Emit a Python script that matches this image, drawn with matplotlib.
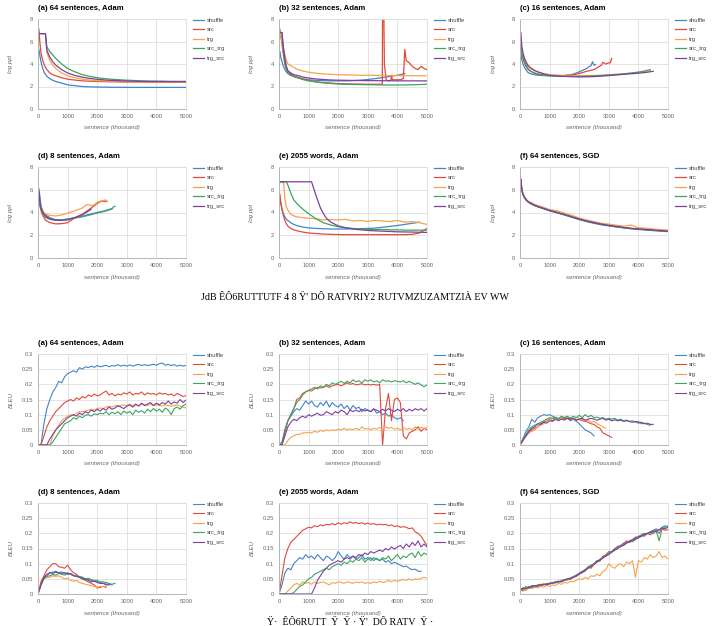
import matplotlib
matplotlib.use('Agg')
import matplotlib.pyplot as plt

plt.rcParams['font.family'] = 'Liberation Sans'

series_names = ['shuffle', 'src', 'trg', 'src_trg', 'trg_src']
colors = ['#4285c8', '#df4b3a', '#f7a24b', '#3ba55d', '#7f3f9f']

ppl_titles = ['(a) 64 sentences, Adam', '(b) 32 sentences, Adam', '(c) 16 sentences, Adam',
              '(d) 8 sentences, Adam', '(e) 2055 words, Adam', '(f) 64 sentences, SGD']
bleu_titles = ppl_titles

caption1 = "JdB ÊÔ6RUTTUTF 4 8 Ÿ' DÔ RATVRIY2 RUTVMZUZAMTZIÀ EV WW"
caption2 = "Ÿ·  ÊÔ6RUTT  Ÿ  Ÿ · Ÿ'  DÔ RATV  Ÿ ·"

# sentence (thousand) grid for the log ppl curves
PX = [30, 60, 100, 150, 200, 250, 300, 400, 500, 600, 800, 1000, 1250, 1500, 1750,
      2000, 2250, 2500, 2750, 3000, 3250, 3500, 3750, 4000, 4250, 4500, 4750, 5000]
# grid for the BLEU curves
BX = list(range(0, 5001, 100))

# ---- log ppl ----
ppl_a_shuffle = [5.3, 4.8, 4.2, 3.7, 3.3, 3.1, 2.9, 2.7, 2.55, 2.45, 2.3, 2.15, 2.07, 2.0, 1.97,
                 1.95, 1.94, 1.93, 1.93, 1.92, 1.92, 1.92, 1.92, 1.92, 1.92, 1.92, 1.92, 1.92]
ppl_a_src = [7.1, 6.0, 5.0, 4.4, 4.0, 3.7, 3.5, 3.2, 3.05, 2.95, 2.78, 2.65, 2.57, 2.5, 2.47,
             2.45, 2.43, 2.42, 2.41, 2.4, 2.4, 2.39, 2.39, 2.38, 2.38, 2.38, 2.38, 2.38]
ppl_a_trg = [6.7, 6.7, 6.7, 6.7, 6.7, 6.7, 5.0, 4.3, 3.9, 3.6, 3.2, 2.95, 2.78, 2.65, 2.57,
             2.52, 2.49, 2.47, 2.45, 2.44, 2.43, 2.42, 2.42, 2.41, 2.41, 2.4, 2.4, 2.4]
ppl_a_src_trg = [6.7, 6.7, 6.7, 6.7, 6.7, 6.7, 5.5, 5.1, 4.8, 4.5, 4.0, 3.6, 3.3, 3.05, 2.9,
                 2.78, 2.7, 2.64, 2.6, 2.56, 2.53, 2.5, 2.48, 2.47, 2.46, 2.45, 2.45, 2.45]
ppl_a_trg_src = [6.7, 6.7, 6.7, 6.7, 6.7, 6.7, 5.2, 4.6, 4.2, 3.9, 3.5, 3.2, 2.98, 2.83, 2.72,
                 2.64, 2.58, 2.54, 2.51, 2.49, 2.47, 2.46, 2.45, 2.45, 2.45, 2.44, 2.44, 2.44]

ppl_b_shuffle = [5.1, 4.6, 4.2, 3.8, 3.5, 3.3, 3.15, 2.98, 2.88, 2.8, 2.68, 2.6, 2.55, 2.52, 2.5,
                 2.5, 2.5, 2.52, 2.56, 2.62, 2.7, 2.8, 2.9, 3.0, 3.15]
ppl_b_src_x = [30, 60, 100, 150, 200, 250, 300, 400, 500, 600, 800, 1000, 1250, 1500, 1750,
               2000, 2250, 2500, 2750, 3000, 3250, 3450, 3490, 3500, 3540, 3560, 3620, 3700,
               3780, 3800, 3830, 3950, 4100, 4200, 4250, 4300, 4400, 4500, 4600, 4700, 4800,
               4850, 4900, 5000]
ppl_b_src = [7.1, 6.5, 5.8, 4.8, 4.0, 3.6, 3.35, 3.1, 2.95, 2.85, 2.68, 2.55, 2.42, 2.35, 2.3,
             2.26, 2.24, 2.22, 2.21, 2.2, 2.2, 2.2, 2.2, 9.0, 9.0, 4.0, 2.6, 2.5,
             2.55, 3.0, 2.6, 2.6, 2.6, 2.7, 5.3, 4.3, 4.1, 3.8, 3.6, 3.5, 3.8,
             3.7, 3.6, 3.5]
ppl_b_trg = [7.0, 6.5, 6.0, 5.3, 4.8, 4.3, 4.0, 3.85, 3.7, 3.55, 3.38, 3.27, 3.18, 3.12, 3.08,
             3.05, 3.03, 3.02, 3.0, 3.0, 2.99, 2.98, 2.97, 2.97, 2.96, 2.96, 2.95, 2.95]
ppl_b_src_trg = [6.8, 6.8, 6.8, 5.0, 4.0, 3.5, 3.2, 3.0, 2.9, 2.8, 2.62, 2.5, 2.4, 2.32, 2.27,
                 2.22, 2.2, 2.18, 2.17, 2.16, 2.15, 2.14, 2.13, 2.13, 2.14, 2.15, 2.17, 2.2]
ppl_b_trg_src = [6.8, 6.8, 6.8, 5.5, 4.5, 3.8, 3.4, 3.2, 3.05, 3.0, 2.85, 2.75, 2.67, 2.62, 2.58,
                 2.56, 2.55, 2.54, 2.53, 2.52, 2.52, 2.51, 2.51, 2.5, 2.5, 2.5, 2.5, 2.5]

ppl_c_shuffle_x = [30, 60, 100, 150, 200, 250, 300, 400, 500, 600, 800, 1000, 1250, 1500, 1750,
                   2000, 2250, 2350, 2400, 2450, 2500, 2550]
ppl_c_shuffle = [4.8, 4.4, 4.0, 3.7, 3.5, 3.3, 3.2, 3.1, 3.05, 3.0, 2.97, 2.95, 2.95, 2.97, 3.05,
                 3.3, 3.6, 3.8, 3.85, 4.2, 3.9, 3.95]
ppl_c_src_x = [30, 60, 100, 150, 200, 250, 300, 400, 500, 600, 800, 1000, 1250, 1500, 1750,
               2000, 2250, 2500, 2750, 2800, 2900, 3000, 3050, 3100]
ppl_c_src = [5.3, 4.9, 4.5, 4.1, 3.8, 3.6, 3.45, 3.3, 3.2, 3.12, 3.05, 3.0, 2.98, 2.98, 3.02,
             3.15, 3.35, 3.5, 3.9, 4.15, 4.0, 4.1, 4.1, 4.5]
ppl_c_long_x = [30, 60, 100, 150, 200, 250, 300, 400, 500, 600, 800, 1000, 1250, 1500, 1750,
                2000, 2250, 2500, 2750, 3000, 3250, 3500, 3750, 4000, 4250, 4400]
ppl_c_trg = [5.2, 5.0, 4.8, 4.5, 4.2, 4.0, 3.85, 3.6, 3.45, 3.3, 3.15, 3.05, 3.0, 2.95, 2.95,
             2.95, 2.97, 2.98, 3.0, 3.05, 3.08, 3.12, 3.18, 3.25, 3.35, 3.4]
ppl_c_src_trg = [5.8, 5.1, 4.6, 4.2, 3.9, 3.65, 3.5, 3.3, 3.15, 3.05, 3.0, 2.95, 2.92, 2.9, 2.9,
                 2.9, 2.92, 2.95, 2.98, 3.02, 3.07, 3.12, 3.2, 3.28, 3.4, 3.5]
ppl_c_trg_src = [6.8, 5.6, 5.0, 4.5, 4.2, 3.9, 3.75, 3.55, 3.4, 3.3, 3.12, 3.0, 2.93, 2.9, 2.87,
                 2.85, 2.86, 2.88, 2.92, 2.97, 3.02, 3.08, 3.13, 3.18, 3.25, 3.35]

ppl_d_shuffle = [6.1, 5.5, 4.6, 4.2, 3.95, 3.8, 3.7, 3.55, 3.45, 3.38, 3.35, 3.42, 3.55, 3.68,
                 3.85, 4.0, 4.15, 4.35]
ppl_d_src_x = [30, 60, 100, 150, 200, 250, 300, 400, 500, 600, 800, 1000, 1250, 1500, 1750,
               2000, 2100, 2200, 2300]
ppl_d_src = [5.0, 4.6, 4.2, 3.8, 3.55, 3.35, 3.25, 3.12, 3.05, 3.0, 3.02, 3.1, 3.55, 3.85, 4.3,
             4.8, 4.95, 5.0, 4.95]
ppl_d_trg_x = [30, 60, 100, 150, 200, 250, 300, 400, 500, 600, 800, 1000, 1250, 1500, 1650,
               1750, 1850, 2000, 2100, 2200, 2300, 2350]
ppl_d_trg = [5.0, 4.8, 4.5, 4.2, 4.0, 3.9, 3.82, 3.75, 3.72, 3.7, 3.78, 3.95, 4.15, 4.4, 4.7,
             4.65, 4.6, 4.9, 5.0, 5.05, 5.1, 5.0]
ppl_d_src_trg_x = [30, 60, 100, 150, 200, 250, 300, 400, 500, 600, 800, 1000, 1250, 1500, 1750,
                   2000, 2250, 2500, 2550, 2600]
ppl_d_src_trg = [5.5, 4.8, 4.3, 4.0, 3.75, 3.6, 3.5, 3.4, 3.35, 3.33, 3.35, 3.42, 3.52, 3.62,
                 3.78, 3.95, 4.1, 4.3, 4.5, 4.55]
ppl_d_trg_src_x = [30, 60, 100, 150, 200, 250, 300, 400, 500, 600, 800, 1000, 1250, 1500, 1750,
                   1800]
ppl_d_trg_src = [5.8, 5.0, 4.4, 4.1, 3.85, 3.7, 3.6, 3.45, 3.38, 3.32, 3.3, 3.35, 3.55, 3.8,
                 4.2, 4.3]

ppl_e_shuffle = [5.2, 4.8, 4.3, 3.9, 3.6, 3.4, 3.3, 3.1, 2.95, 2.85, 2.72, 2.65, 2.6, 2.57, 2.55,
                 2.55, 2.55, 2.56, 2.58, 2.6, 2.63, 2.7, 2.78, 2.86, 2.95, 3.05, 3.15]
ppl_e_src = [5.6, 4.9, 4.3, 3.7, 3.3, 3.0, 2.8, 2.6, 2.48, 2.4, 2.28, 2.2, 2.15, 2.1, 2.08,
             2.06, 2.05, 2.05, 2.05, 2.05, 2.05, 2.05, 2.05, 2.05, 2.05, 2.08, 2.2, 2.6]
ppl_e_trg = [6.7, 6.7, 6.7, 6.7, 5.2, 4.5, 4.2, 3.85, 3.7, 3.62, 3.55, 3.5, 3.45, 3.35, 3.38,
             3.35, 3.4, 3.25, 3.3, 3.22, 3.3, 3.25, 3.2, 3.3, 3.15, 3.2, 3.1, 2.95]
ppl_e_src_trg = [6.7, 6.7, 6.7, 6.7, 6.7, 6.7, 6.4, 5.7, 5.1, 4.8, 4.3, 3.9, 3.45, 3.1, 2.9,
                 2.75, 2.67, 2.6, 2.55, 2.52, 2.5, 2.5, 2.48, 2.47, 2.45, 2.45, 2.45, 2.45]
ppl_e_trg_src_x = [30, 1100, 1150, 1250, 1400, 1500, 1600, 1750, 2000, 2250, 2500, 2750, 3000,
                   3500, 4000, 4500, 5000]
ppl_e_trg_src = [6.7, 6.7, 6.3, 5.5, 4.4, 3.9, 3.5, 3.15, 2.82, 2.65, 2.55, 2.48, 2.42, 2.36,
                 2.3, 2.28, 2.25]

ppl_f_shuffle = [6.85, 5.95, 5.55, 5.3, 5.1, 4.97, 4.87, 4.72, 4.6, 4.5, 4.33, 4.15, 3.97, 3.78,
                 3.58, 3.38, 3.2, 3.05, 2.92, 2.82, 2.73, 2.64, 2.57, 2.51, 2.46, 2.41, 2.37, 2.32]
ppl_f_src = [6.9, 6.0, 5.6, 5.35, 5.15, 5.0, 4.9, 4.75, 4.62, 4.52, 4.35, 4.18, 4.0, 3.82,
             3.62, 3.42, 3.25, 3.1, 2.97, 2.86, 2.77, 2.68, 2.6, 2.55, 2.5, 2.45, 2.4, 2.35]
ppl_f_trg = [6.9, 6.1, 5.65, 5.4, 5.2, 5.05, 4.95, 4.85, 4.7, 4.62, 4.45, 4.25, 4.15, 3.95,
             3.75, 3.52, 3.35, 3.2, 3.05, 2.98, 2.88, 2.8, 2.9, 2.65, 2.62, 2.55, 2.5, 2.45]
ppl_f_src_trg = [6.9, 6.0, 5.6, 5.33, 5.13, 4.99, 4.88, 4.74, 4.61, 4.51, 4.34, 4.17, 3.99, 3.8,
                 3.6, 3.4, 3.23, 3.08, 2.95, 2.85, 2.75, 2.67, 2.59, 2.53, 2.48, 2.43, 2.38, 2.34]
ppl_f_trg_src = [6.95, 6.05, 5.62, 5.36, 5.16, 5.01, 4.91, 4.76, 4.63, 4.53, 4.36, 4.19, 4.01,
                 3.83, 3.63, 3.43, 3.26, 3.11, 2.98, 2.87, 2.78, 2.69, 2.61, 2.56, 2.51, 2.46,
                 2.41, 2.36]

# ---- BLEU ----
bleu_a_shuffle = [0, 0, 0.07, 0.12, 0.15, 0.175, 0.19, 0.21, 0.205, 0.225,
                  0.235, 0.24, 0.245, 0.24, 0.255, 0.25, 0.258, 0.255, 0.26, 0.256,
                  0.262, 0.258, 0.26, 0.263, 0.258, 0.262, 0.26, 0.265, 0.26, 0.263,
                  0.26, 0.264, 0.26, 0.263, 0.266, 0.262, 0.265, 0.262, 0.264, 0.266,
                  0.263, 0.268, 0.27, 0.263, 0.266, 0.262, 0.265, 0.26, 0.263, 0.26,
                  0.262]
bleu_a_src = [0, 0, 0.03, 0.06, 0.08, 0.095, 0.11, 0.12, 0.13, 0.14,
              0.145, 0.15, 0.145, 0.155, 0.15, 0.16, 0.155, 0.165, 0.16, 0.168,
              0.162, 0.165, 0.172, 0.178, 0.165, 0.17, 0.162, 0.168, 0.165, 0.172,
              0.168, 0.175, 0.165, 0.17, 0.168, 0.175, 0.165, 0.172, 0.168, 0.17,
              0.165, 0.172, 0.168, 0.17, 0.165, 0.168, 0.162, 0.17, 0.165, 0.16,
              0.163]
bleu_a_trg = [0, 0, 0, 0, 0, 0.03, 0.05, 0.065, 0.08, 0.088,
              0.095, 0.1, 0.098, 0.105, 0.11, 0.11, 0.112, 0.115, 0.118, 0.115,
              0.12, 0.122, 0.12, 0.125, 0.128, 0.125, 0.13, 0.128, 0.13, 0.132,
              0.13, 0.135, 0.13, 0.133, 0.13, 0.135, 0.132, 0.13, 0.135, 0.13,
              0.133, 0.13, 0.128, 0.132, 0.13, 0.128, 0.13, 0.132, 0.128, 0.125,
              0.122]
bleu_a_src_trg = [0, 0, 0, 0, 0, 0.01, 0.025, 0.04, 0.055, 0.07,
                  0.075, 0.08, 0.09, 0.085, 0.095, 0.09, 0.098, 0.1, 0.095, 0.103,
                  0.1, 0.105, 0.102, 0.11, 0.1, 0.108, 0.103, 0.11, 0.1, 0.112,
                  0.105, 0.11, 0.1, 0.115, 0.108, 0.113, 0.105, 0.118, 0.11, 0.12,
                  0.112, 0.118, 0.108, 0.122, 0.115, 0.1, 0.12, 0.125, 0.118, 0.13,
                  0.135]
bleu_a_trg_src = [0, 0, 0, 0, 0.02, 0.035, 0.05, 0.06, 0.07, 0.08,
                  0.09, 0.095, 0.1, 0.095, 0.105, 0.1, 0.11, 0.105, 0.115, 0.11,
                  0.118, 0.112, 0.12, 0.115, 0.125, 0.118, 0.122, 0.13, 0.125, 0.12,
                  0.128, 0.132, 0.125, 0.135, 0.128, 0.138, 0.13, 0.135, 0.14, 0.13,
                  0.138, 0.132, 0.14, 0.135, 0.145, 0.135, 0.142, 0.138, 0.15, 0.14,
                  0.148]

bleu_b_shuffle = [0, 0.01, 0.05, 0.08, 0.095, 0.11, 0.12, 0.115, 0.13, 0.145,
                  0.135, 0.145, 0.13, 0.125, 0.14, 0.13, 0.145, 0.125, 0.14, 0.13,
                  0.125, 0.135, 0.12, 0.13, 0.115, 0.13, 0.12, 0.125, 0.11, 0.12,
                  0.115, 0.11, 0.12, 0.105, 0.11, 0.1, 0.105, 0.095, 0.1, 0.09,
                  0.085, 0.09, 0.08]
bleu_b_src = [0, 0, 0.05, 0.08, 0.1, 0.12, 0.15, 0.155, 0.17, 0.175,
              0.18, 0.178, 0.185, 0.19, 0.188, 0.19, 0.195, 0.19, 0.195, 0.198,
              0.2, 0.195, 0.2, 0.205, 0.2, 0.203, 0.198, 0.2, 0.202, 0.198,
              0.2, 0.198, 0.2, 0.197, 0.2, 0, 0.12, 0.17, 0.08, 0.15,
              0.155, 0.14, 0.03, 0.02, 0.04, 0.045, 0.05, 0.06, 0.045, 0.055,
              0.05]
bleu_b_trg = [0, 0, 0, 0.015, 0.025, 0.03, 0.035, 0.035, 0.04, 0.04,
              0.042, 0.04, 0.045, 0.042, 0.048, 0.045, 0.05, 0.047, 0.05, 0.048,
              0.052, 0.05, 0.055, 0.05, 0.053, 0.05, 0.055, 0.05, 0.06, 0.052,
              0.055, 0.05, 0.055, 0.052, 0.058, 0.05, 0.06, 0.055, 0.058, 0.052,
              0.055, 0.05, 0.058, 0.052, 0.055, 0.05, 0.06, 0.052, 0.058, 0.055,
              0.058]
bleu_b_src_trg = [0, 0, 0.04, 0.08, 0.1, 0.12, 0.14, 0.15, 0.165, 0.175,
                  0.18, 0.185, 0.19, 0.185, 0.195, 0.19, 0.2, 0.195, 0.205, 0.2,
                  0.205, 0.21, 0.203, 0.21, 0.205, 0.215, 0.208, 0.212, 0.205, 0.215,
                  0.21, 0.215, 0.208, 0.212, 0.205, 0.215, 0.21, 0.212, 0.208, 0.212,
                  0.21, 0.208, 0.212, 0.205, 0.21, 0.205, 0.2, 0.205, 0.198, 0.192,
                  0.198]
bleu_b_trg_src = [0, 0, 0.03, 0.06, 0.075, 0.085, 0.08, 0.09, 0.095, 0.09,
                  0.1, 0.095, 0.1, 0.105, 0.098, 0.1, 0.11, 0.105, 0.1, 0.11,
                  0.105, 0.115, 0.11, 0.1, 0.115, 0.11, 0.115, 0.11, 0.118, 0.112,
                  0.115, 0.11, 0.118, 0.115, 0.11, 0.118, 0.112, 0.12, 0.115, 0.11,
                  0.118, 0.112, 0.12, 0.11, 0.118, 0.112, 0.12, 0.115, 0.12, 0.112,
                  0.12]

bleu_c_shuffle = [0, 0.02, 0.045, 0.06, 0.085, 0.075, 0.09, 0.095, 0.1, 0.098,
                  0.1, 0.095, 0.09, 0.088, 0.092, 0.085, 0.088, 0.08, 0.085, 0.078,
                  0.07, 0.06, 0.05, 0.045, 0.04, 0.03]
bleu_c_src = [0, 0.015, 0.03, 0.04, 0.05, 0.055, 0.06, 0.07, 0.075, 0.08,
              0.085, 0.08, 0.09, 0.085, 0.09, 0.088, 0.09, 0.085, 0.088, 0.082,
              0.085, 0.08, 0.078, 0.075, 0.07, 0.068, 0.06, 0.055, 0.04, 0.035,
              0.03, 0.025]
bleu_c_trg = [0, 0.015, 0.03, 0.04, 0.045, 0.05, 0.06, 0.065, 0.07, 0.078,
              0.085, 0.088, 0.09, 0.085, 0.09, 0.092, 0.088, 0.09, 0.085, 0.09,
              0.088, 0.085, 0.08, 0.082, 0.075, 0.078, 0.07, 0.065, 0.06, 0.055]
bleu_c_src_trg = [0, 0.02, 0.035, 0.05, 0.06, 0.065, 0.07, 0.075, 0.08, 0.085,
                  0.09, 0.088, 0.092, 0.085, 0.095, 0.09, 0.095, 0.088, 0.095, 0.09,
                  0.098, 0.09, 0.1, 0.092, 0.098, 0.09, 0.092, 0.088, 0.09, 0.085,
                  0.088, 0.085, 0.088, 0.082, 0.085, 0.08, 0.082, 0.078, 0.08, 0.075,
                  0.078, 0.07, 0.072, 0.068, 0.065]
bleu_c_trg_src = [0, 0.015, 0.03, 0.045, 0.055, 0.06, 0.07, 0.068, 0.075, 0.072,
                  0.08, 0.078, 0.085, 0.08, 0.085, 0.082, 0.088, 0.085, 0.088, 0.082,
                  0.085, 0.088, 0.082, 0.085, 0.088, 0.085, 0.082, 0.085, 0.088, 0.082,
                  0.085, 0.08, 0.083, 0.08, 0.082, 0.078, 0.08, 0.077, 0.075, 0.078,
                  0.072, 0.075, 0.07, 0.072, 0.068, 0.068]

bleu_d_shuffle = [0, 0.03, 0.055, 0.06, 0.07, 0.072, 0.075, 0.07, 0.073, 0.068,
                  0.07, 0.065, 0.062, 0.06, 0.058, 0.055, 0.05, 0.048, 0.045, 0.042,
                  0.04, 0.038, 0.035, 0.033, 0.032, 0.03]
bleu_d_src = [0, 0.04, 0.06, 0.08, 0.09, 0.1, 0.1, 0.09, 0.088, 0.085,
              0.095, 0.08, 0.07, 0.065, 0.055, 0.05, 0.045, 0.04, 0.035, 0.03,
              0.02, 0.022, 0.025, 0.022]
bleu_d_trg = [0, 0.03, 0.05, 0.055, 0.055, 0.06, 0.058, 0.06, 0.055, 0.05,
              0.052, 0.045, 0.042, 0.045, 0.038, 0.035, 0.032, 0.03, 0.028, 0.025,
              0.022, 0.025, 0.025, 0.025]
bleu_d_src_trg = [0, 0.03, 0.05, 0.058, 0.06, 0.065, 0.062, 0.068, 0.065, 0.062,
                  0.068, 0.065, 0.06, 0.058, 0.055, 0.055, 0.05, 0.052, 0.048, 0.045,
                  0.045, 0.04, 0.04, 0.038, 0.035, 0.032, 0.035]
bleu_d_trg_src = [0, 0.03, 0.055, 0.065, 0.07, 0.068, 0.072, 0.07, 0.068, 0.07,
                  0.065, 0.068, 0.06, 0.058, 0.055, 0.05, 0.048, 0.045, 0.04, 0.042,
                  0.038, 0.035, 0.035, 0.03, 0.03]

bleu_e_shuffle = [0, 0.03, 0.07, 0.085, 0.08, 0.1, 0.11, 0.12, 0.115, 0.13,
                  0.12, 0.125, 0.115, 0.13, 0.12, 0.11, 0.125, 0.12, 0.11, 0.12,
                  0.14, 0.125, 0.115, 0.13, 0.12, 0.125, 0.115, 0.12, 0.13, 0.115,
                  0.12, 0.11, 0.12, 0.115, 0.11, 0.115, 0.105, 0.11, 0.1, 0.105,
                  0.1, 0.095, 0.09, 0.092, 0.085, 0.08, 0.082, 0.075, 0.075]
bleu_e_src = [0, 0.06, 0.12, 0.15, 0.17, 0.18, 0.19, 0.2, 0.21, 0.215,
              0.22, 0.218, 0.225, 0.222, 0.228, 0.225, 0.23, 0.228, 0.232, 0.228,
              0.235, 0.23, 0.235, 0.232, 0.238, 0.233, 0.236, 0.232, 0.235, 0.23,
              0.234, 0.23, 0.232, 0.228, 0.23, 0.228, 0.23, 0.225, 0.228, 0.222,
              0.225, 0.22, 0.222, 0.22, 0.215, 0.218, 0.205, 0.2, 0.19, 0.175,
              0.16]
bleu_e_trg = [0, 0, 0, 0.01, 0.02, 0.03, 0.035, 0.03, 0.04, 0.035,
              0.038, 0.032, 0.04, 0.035, 0.038, 0.04, 0.035, 0.03, 0.038, 0.035,
              0.04, 0.038, 0.035, 0.04, 0.038, 0.035, 0.04, 0.037, 0.04, 0.035,
              0.038, 0.035, 0.04, 0.037, 0.042, 0.038, 0.04, 0.045, 0.04, 0.045,
              0.042, 0.045, 0.048, 0.045, 0.05, 0.045, 0.05, 0.048, 0.052, 0.055,
              0.052]
bleu_e_src_trg = [0, 0, 0, 0, 0, 0.005, 0.015, 0.025, 0.03, 0.04,
                  0.05, 0.055, 0.065, 0.07, 0.075, 0.08, 0.085, 0.08, 0.09, 0.095,
                  0.1, 0.095, 0.105, 0.1, 0.11, 0.105, 0.115, 0.11, 0.12, 0.105,
                  0.115, 0.12, 0.11, 0.118, 0.11, 0.12, 0.115, 0.125, 0.11, 0.12,
                  0.13, 0.115, 0.125, 0.12, 0.13, 0.135, 0.12, 0.14, 0.125, 0.135,
                  0.13]
bleu_e_trg_src = [0, 0, 0, 0, 0, 0, 0, 0, 0, 0,
                  0, 0, 0.02, 0.045, 0.06, 0.075, 0.085, 0.095, 0.1, 0.105,
                  0.11, 0.105, 0.115, 0.12, 0.115, 0.125, 0.12, 0.13, 0.125, 0.135,
                  0.13, 0.14, 0.135, 0.14, 0.145, 0.14, 0.15, 0.145, 0.155, 0.148,
                  0.155, 0.16, 0.15, 0.165, 0.155, 0.17, 0.16, 0.175, 0.155, 0.165,
                  0.155]

bleu_f_shuffle = [0.01, 0.02, 0.015, 0.025, 0.02, 0.025, 0.028, 0.03, 0.032, 0.03,
                  0.035, 0.036, 0.038, 0.04, 0.042, 0.045, 0.048, 0.05, 0.055, 0.06,
                  0.065, 0.07, 0.078, 0.085, 0.09, 0.1, 0.105, 0.115, 0.12, 0.13,
                  0.135, 0.14, 0.15, 0.155, 0.16, 0.168, 0.17, 0.175, 0.18, 0.185,
                  0.19, 0.195, 0.2, 0.198, 0.205, 0.21, 0.215, 0.21, 0.22, 0.225,
                  0.22]
bleu_f_src = [0.015, 0.01, 0.02, 0.018, 0.025, 0.022, 0.03, 0.028, 0.03, 0.034,
              0.032, 0.038, 0.036, 0.042, 0.04, 0.046, 0.05, 0.048, 0.056, 0.058,
              0.066, 0.072, 0.075, 0.088, 0.085, 0.098, 0.11, 0.108, 0.125, 0.128,
              0.14, 0.138, 0.145, 0.158, 0.155, 0.165, 0.175, 0.17, 0.178, 0.188,
              0.185, 0.19, 0.198, 0.2, 0.195, 0.205, 0.21, 0.2, 0.215, 0.21,
              0.212]
bleu_f_trg = [0.01, 0.015, 0.012, 0.02, 0.018, 0.022, 0.02, 0.025, 0.022, 0.028,
              0.025, 0.03, 0.028, 0.035, 0.032, 0.038, 0.036, 0.042, 0.04, 0.045,
              0.05, 0.048, 0.055, 0.05, 0.06, 0.058, 0.065, 0.06, 0.075, 0.08,
              0.1, 0.09, 0.085, 0.095, 0.1, 0.09, 0.105, 0.1, 0.11, 0.055,
              0.11, 0.105, 0.12, 0.115, 0.13, 0.12, 0.125, 0.14, 0.12, 0.125,
              0.115]
bleu_f_src_trg = [0.02, 0.015, 0.025, 0.02, 0.028, 0.025, 0.03, 0.032, 0.03, 0.035,
                  0.034, 0.038, 0.04, 0.038, 0.045, 0.048, 0.046, 0.052, 0.058, 0.062,
                  0.068, 0.075, 0.08, 0.09, 0.095, 0.1, 0.11, 0.112, 0.12, 0.125,
                  0.135, 0.14, 0.145, 0.15, 0.16, 0.162, 0.168, 0.175, 0.172, 0.18,
                  0.185, 0.195, 0.19, 0.2, 0.205, 0.198, 0.21, 0.175, 0.215, 0.22,
                  0.225]
bleu_f_trg_src = [0.01, 0.02, 0.018, 0.022, 0.025, 0.028, 0.025, 0.03, 0.033, 0.03,
                  0.036, 0.035, 0.04, 0.042, 0.04, 0.046, 0.05, 0.052, 0.055, 0.06,
                  0.068, 0.072, 0.08, 0.085, 0.092, 0.098, 0.105, 0.112, 0.118, 0.125,
                  0.13, 0.138, 0.145, 0.15, 0.158, 0.16, 0.168, 0.172, 0.178, 0.18,
                  0.188, 0.19, 0.195, 0.2, 0.202, 0.208, 0.205, 0.212, 0.218, 0.215,
                  0.22]

ppl_panels = [
    [(PX, ppl_a_shuffle), (PX, ppl_a_src), (PX, ppl_a_trg), (PX, ppl_a_src_trg), (PX, ppl_a_trg_src)],
    [(PX, ppl_b_shuffle), (ppl_b_src_x, ppl_b_src), (PX, ppl_b_trg), (PX, ppl_b_src_trg), (PX, ppl_b_trg_src)],
    [(ppl_c_shuffle_x, ppl_c_shuffle), (ppl_c_src_x, ppl_c_src), (ppl_c_long_x, ppl_c_trg),
     (ppl_c_long_x, ppl_c_src_trg), (PX, ppl_c_trg_src)],
    [(PX, ppl_d_shuffle), (ppl_d_src_x, ppl_d_src), (ppl_d_trg_x, ppl_d_trg),
     (ppl_d_src_trg_x, ppl_d_src_trg), (ppl_d_trg_src_x, ppl_d_trg_src)],
    [(PX, ppl_e_shuffle), (PX, ppl_e_src), (PX, ppl_e_trg), (PX, ppl_e_src_trg), (ppl_e_trg_src_x, ppl_e_trg_src)],
    [(PX, ppl_f_shuffle), (PX, ppl_f_src), (PX, ppl_f_trg), (PX, ppl_f_src_trg), (PX, ppl_f_trg_src)],
]
bleu_panels = [
    [bleu_a_shuffle, bleu_a_src, bleu_a_trg, bleu_a_src_trg, bleu_a_trg_src],
    [bleu_b_shuffle, bleu_b_src, bleu_b_trg, bleu_b_src_trg, bleu_b_trg_src],
    [bleu_c_shuffle, bleu_c_src, bleu_c_trg, bleu_c_src_trg, bleu_c_trg_src],
    [bleu_d_shuffle, bleu_d_src, bleu_d_trg, bleu_d_src_trg, bleu_d_trg_src],
    [bleu_e_shuffle, bleu_e_src, bleu_e_trg, bleu_e_src_trg, bleu_e_trg_src],
    [bleu_f_shuffle, bleu_f_src, bleu_f_trg, bleu_f_src_trg, bleu_f_trg_src],
]

W, H = 726, 626
fig = plt.figure(figsize=(W / 100, H / 100), dpi=100)

col_left = [38, 279, 520]
ax_w = 148
ppl_rows = [(19, 109), (167, 258)]
bleu_rows = [(354, 445), (503, 594)]


def make_axes(left, top, bottom, title, ylabel, ymax, yticks, ylabels):
    ax = fig.add_axes([left / W, 1 - bottom / H, ax_w / W, (bottom - top) / H])
    ax.set_xlim(0, 5000)
    ax.set_ylim(0, ymax)
    ax.set_xticks([0, 1000, 2000, 3000, 4000, 5000])
    ax.set_yticks(yticks)
    ax.set_yticklabels(ylabels)
    ax.grid(True, color='#dedede', linewidth=0.6)
    ax.set_axisbelow(True)
    ax.tick_params(length=0, labelsize=4.2, colors='#666666', pad=3.5)
    for side in ['top', 'right']:
        ax.spines[side].set_color('#dedede')
        ax.spines[side].set_linewidth(0.6)
    for side in ['left', 'bottom']:
        ax.spines[side].set_color('#b5b5b5')
        ax.spines[side].set_linewidth(0.7)
    ax.set_title(title, loc='left', fontsize=5.6, fontweight='bold', pad=6.5)
    ax.set_xlabel('sentence (thousand)', fontsize=4.4, style='italic', color='#666666', va='center')
    ax.xaxis.set_label_coords(0.5, -19 / (bottom - top))
    ax.set_ylabel(ylabel, fontsize=4.4, style='italic', color='#666666', va='center')
    ax.yaxis.set_label_coords(-27 / ax_w, 0.5)
    return ax


def add_legend(ax):
    ax.legend(loc='upper left', bbox_to_anchor=(1.047, 1.012), frameon=False, fontsize=4.2,
              borderpad=0, borderaxespad=0, handlelength=1.9, handletextpad=0.5,
              labelspacing=0.75, labelcolor='#444444')


for i, title in enumerate(ppl_titles):
    top, bottom = ppl_rows[i // 3]
    ax = make_axes(col_left[i % 3], top, bottom, title, 'log ppl', 8,
                   [0, 2, 4, 6, 8], ['0', '2', '4', '6', '8'])
    for (x, y), name, c in zip(ppl_panels[i], series_names, colors):
        ax.plot(x[:len(y)], y, color=c, linewidth=0.9, label=name)
    add_legend(ax)

for i, title in enumerate(bleu_titles):
    top, bottom = bleu_rows[i // 3]
    ax = make_axes(col_left[i % 3], top, bottom, title, 'BLEU', 0.3,
                   [0, 0.05, 0.1, 0.15, 0.2, 0.25, 0.3],
                   ['0', '0.05', '0.1', '0.15', '0.2', '0.25', '0.3'])
    for y, name, c in zip(bleu_panels[i], series_names, colors):
        ax.plot(BX[:len(y)], y, color=c, linewidth=0.8, label=name)
    add_legend(ax)

fig.text(355 / W, 1 - 297 / H, caption1, ha='center', va='center', fontsize=7.2,
         family=['Liberation Serif', 'DejaVu Serif'])
fig.text(350 / W, 1 - 618 / H, caption2, ha='center', va='top', fontsize=7.2,
         family=['Liberation Serif', 'DejaVu Serif'])

fig.savefig('out.png', dpi=100)
